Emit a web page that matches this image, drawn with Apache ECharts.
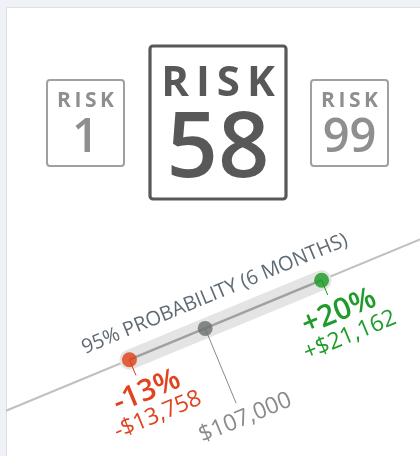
<!DOCTYPE html>
<html><head><meta charset="utf-8">
<script src="https://cdn.jsdelivr.net/npm/echarts@6/dist/echarts.min.js"></script>
<style>html,body{margin:0;padding:0;background:#eef1f6}#c{width:420px;height:456px}</style>
</head><body><div id="c"></div>
<script>
// ---- data ----
const riskValues = [1, 58, 99];
const riskWord = 'RISK';
const scenarioPct = [-13, 0, 20];
const pctLabels = ['-13%', '', '+20%'];
const valueLabels = ['-$13,758', '$107,000', '+$21,162'];
const bandTitle = '95% PROBABILITY (6 MONTHS)';
const xMin = -34.2, xMax = 36.9;
const yMin = -43, yMax = 40;

const RED = '#e03c14', GREY = '#6a6f70', GREEN = '#17991f';
const pointColors = [RED, GREY, GREEN];
const labelColors = ['#e2431f', '#8a8a8a', '#1f9b2c'];
const FONT = '"Open Sans", sans-serif';

const chart = echarts.init(document.getElementById('c'), null, {renderer: 'canvas'});

const pts = scenarioPct.map(p => [p, p]);
const lo = scenarioPct[0], hi = scenarioPct[scenarioPct.length - 1];

chart.setOption({
  backgroundColor: '#eef1f6',
  animation: false,
  grid: {left: 6, right: 0, top: 232, height: 200},
  xAxis: {type: 'value', min: xMin, max: xMax, show: false},
  yAxis: {type: 'value', min: yMin, max: yMax, show: false},
  series: [
    {type: 'line', data: [[xMin, xMin], [xMax, xMax]], showSymbol: false, silent: true, z: 1,
     lineStyle: {color: '#c0c0c0', width: 2}},
    {type: 'line', data: [[lo, lo], [hi, hi]], showSymbol: false, silent: true, z: 2,
     lineStyle: {color: '#e4e4e4', width: 20, cap: 'round'}},
    {type: 'line', data: [[lo, lo], [hi, hi]], showSymbol: false, silent: true, z: 3,
     lineStyle: {color: '#a0a0a0', width: 2.5}},
    {type: 'scatter', data: pts.map((d, i) => ({value: d, itemStyle: {color: pointColors[i]}})),
     symbolSize: 15, z: 6, silent: true}
  ]
});

// geometry derived from the axes
const P = pts.map(d => chart.convertToPixel({gridIndex: 0}, d));
const a0 = chart.convertToPixel({gridIndex: 0}, [xMin, xMin]);
const a1 = chart.convertToPixel({gridIndex: 0}, [xMax, xMax]);
const ang = Math.atan2(a0[1] - a1[1], a1[0] - a0[0]);
const U = [Math.cos(ang), -Math.sin(ang)];
const N = [Math.sin(ang), Math.cos(ang)];
const at = (p, u, n) => [p[0] + u * U[0] + n * N[0], p[1] + u * U[1] + n * N[1]];

const g = [];
// card
g.push({type: 'rect', z: -10, shape: {x: 6.5, y: 7.5, width: 430, height: 460},
  style: {fill: '#ffffff', stroke: '#dde1e6', lineWidth: 1}, silent: true});

// risk boxes
const boxes = [
  {cx: 85.5, y: 80, w: 77, h: 86, lw: 2, col: '#a0a0a0', txt: '#8f8f8f', wordSize: 21, wordY: 101, numSize: 47, numY: 139, numW: 600},
  {cx: 218, y: 46, w: 136, h: 153, lw: 3.2, col: '#585858', txt: '#585858', wordSize: 42, wordY: 84, numSize: 90, numY: 151, numW: 600},
  {cx: 349.5, y: 80, w: 77, h: 86, lw: 2, col: '#a0a0a0', txt: '#8f8f8f', wordSize: 21, wordY: 101, numSize: 47, numY: 139, numW: 600}
];
boxes.forEach((b, i) => {
  g.push({type: 'rect', z: 1, shape: {x: b.cx - b.w / 2, y: b.y, width: b.w, height: b.h, r: 3},
    style: {fill: '#fff', stroke: b.col, lineWidth: b.lw}, silent: true});
  g.push({type: 'text', z: 2, x: b.cx, y: b.wordY, silent: true,
    style: {text: riskWord.split('').join('\u2009'), fill: b.txt, font: '700 ' + b.wordSize + 'px ' + FONT,
      textAlign: 'center', textVerticalAlign: 'middle'}});
  g.push({type: 'text', z: 2, x: b.cx, y: b.numY, silent: true,
    style: {text: String(riskValues[i]), fill: b.txt, font: b.numW + ' ' + b.numSize + 'px ' + FONT,
      textAlign: 'center', textVerticalAlign: 'middle'}});
});

// leader lines and labels
const leaderLen = [17, 81, 16];
const leaderCol = [RED, '#8a8a8a', GREEN];
P.forEach((p, i) => {
  const e = at(p, 0, leaderLen[i]);
  g.push({type: 'line', z: 3, silent: true, shape: {x1: p[0], y1: p[1], x2: e[0], y2: e[1]},
    style: {stroke: leaderCol[i], lineWidth: 1}});
  if (pctLabels[i]) {
    const t = at(p, 4, 36);
    g.push({type: 'text', z: 4, x: t[0], y: t[1], rotation: ang, silent: true,
      style: {text: pctLabels[i], fill: labelColors[i], font: '600 30px ' + FONT,
        textAlign: 'center', textVerticalAlign: 'middle'}});
    const v = at(p, 5, 62);
    g.push({type: 'text', z: 4, x: v[0], y: v[1], rotation: ang, silent: true,
      style: {text: valueLabels[i], fill: labelColors[i], font: '400 23px ' + FONT,
        textAlign: 'center', textVerticalAlign: 'middle'}});
  } else {
    const v = at(p, 3, 98);
    g.push({type: 'text', z: 4, x: v[0], y: v[1], rotation: ang, silent: true,
      style: {text: valueLabels[i], fill: labelColors[i], font: '400 23px ' + FONT,
        textAlign: 'center', textVerticalAlign: 'middle'}});
  }
});
// band title
const mid = P[1];
const tt = at(mid, 22, -28);
g.push({type: 'text', z: 4, x: tt[0], y: tt[1], rotation: ang, silent: true,
  style: {text: bandTitle, fill: '#5e6a74', font: '400 20px ' + FONT,
    textAlign: 'center', textVerticalAlign: 'middle'}});

chart.setOption({graphic: g});
</script></body></html>
